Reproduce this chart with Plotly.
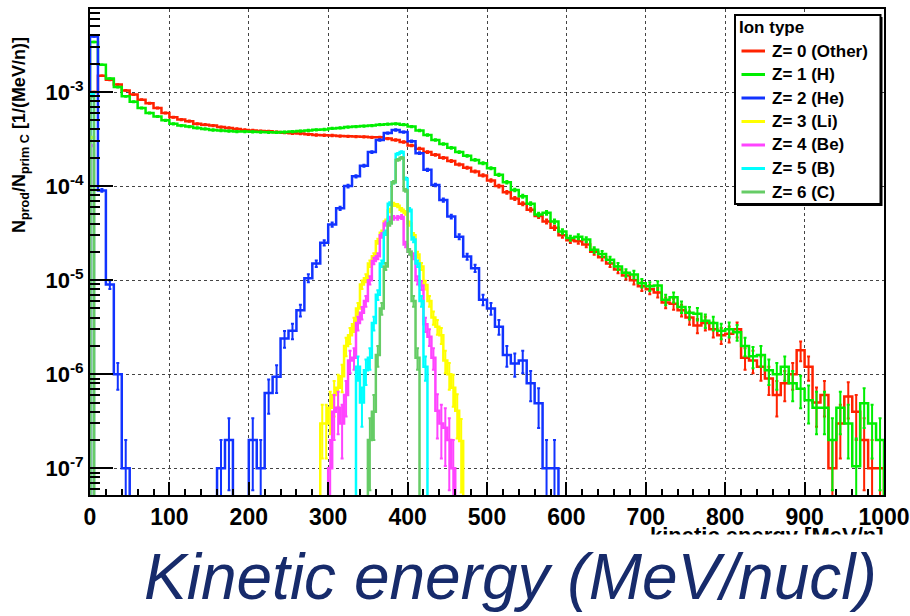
import math
import plotly.graph_objects as go

# ---------------- data ----------------
LIGHT_BIN = 10.0   # MeV/n bin width of the Other / H / He histograms
HEAVY_BIN = 5.0    # MeV/n bin width of the Li / Be / B / C histograms
COUNT_UNIT = 1e-7  # histogram value corresponding to one entry (for error bars)

# Z=0 (Other): bins 0-10, 10-20, ... 990-1000
other_vals = [
    1.0e-3, 1.49e-3, 1.35e-3, 1.2e-3, 1.04e-3, 9.4e-4, 8.3e-4, 7.6e-4, 6.75e-4, 6.0e-4,
    5.4e-4, 5.1e-4, 4.9e-4, 4.6e-4, 4.5e-4, 4.4e-4, 4.25e-4, 4.15e-4, 4.05e-4, 3.95e-4,
    3.9e-4, 3.85e-4, 3.82e-4, 3.75e-4, 3.7e-4, 3.65e-4, 3.62e-4, 3.55e-4, 3.5e-4, 3.47e-4,
    3.45e-4, 3.4e-4, 3.38e-4, 3.36e-4, 3.34e-4, 3.3e-4, 3.3e-4, 3.2e-4, 3.1e-4, 2.95e-4,
    2.7e-4, 2.5e-4, 2.3e-4, 2.15e-4, 2.0e-4, 1.85e-4, 1.7e-4, 1.57e-4, 1.43e-4, 1.3e-4,
    1.15e-4, 1.0e-4, 8.6e-5, 7.4e-5, 6.5e-5, 5.6e-5, 4.8e-5, 4.2e-5, 3.6e-5, 3.0e-5,
    2.65e-5, 2.6e-5, 2.4e-5, 2.0e-5, 1.75e-5, 1.5e-5, 1.3e-5, 1.12e-5, 1.0e-5, 8.6e-6,
    8.0e-6, 7.4e-6, 5.8e-6, 5.6e-6, 4.8e-6, 4.0e-6, 3.3e-6, 3.5e-6, 3.0e-6, 2.6e-6,
    2.7e-6, 3.0e-6, 1.5e-6, 1.4e-6, 1.2e-6, 9e-7, 6e-7, 8e-7, 1.0e-6, 1.8e-6,
    1.2e-6, 5e-7, 6e-7, 1.0e-7, 3e-7, 5.8e-7, 4e-7, 2e-7, 1.0e-7, 1.0e-7,
]

# Z=1 (H): bins 0-10 ... 990-1000
h_vals = [
    3.4e-3, 1.95e-3, 1.39e-3, 1.13e-3, 9.0e-4, 7.9e-4, 6.75e-4, 6.0e-4, 5.5e-4, 5.0e-4,
    4.6e-4, 4.4e-4, 4.3e-4, 4.15e-4, 4.05e-4, 3.95e-4, 3.9e-4, 3.85e-4, 3.8e-4, 3.8e-4,
    3.78e-4, 3.75e-4, 3.73e-4, 3.72e-4, 3.75e-4, 3.8e-4, 3.85e-4, 3.9e-4, 3.97e-4, 4.0e-4,
    4.1e-4, 4.15e-4, 4.25e-4, 4.3e-4, 4.35e-4, 4.4e-4, 4.5e-4, 4.55e-4, 4.6e-4, 4.5e-4,
    4.3e-4, 3.9e-4, 3.5e-4, 3.1e-4, 2.8e-4, 2.55e-4, 2.3e-4, 2.1e-4, 1.9e-4, 1.75e-4,
    1.55e-4, 1.32e-4, 1.1e-4, 9.1e-5, 7.8e-5, 6.5e-5, 5.0e-5, 5.2e-5, 4.2e-5, 3.3e-5,
    2.8e-5, 2.9e-5, 2.7e-5, 2.1e-5, 1.9e-5, 1.65e-5, 1.4e-5, 1.2e-5, 1.15e-5, 9.3e-6,
    8.6e-6, 8.8e-6, 6.2e-6, 6.6e-6, 5.2e-6, 4.5e-6, 4.4e-6, 3.7e-6, 3.5e-6, 2.9e-6,
    3.0e-6, 2.8e-6, 2.0e-6, 1.55e-6, 1.6e-6, 1.1e-6, 1.0e-6, 1.2e-6, 8e-7, 7e-7,
    5.3e-7, 4.4e-7, 4.4e-7, 2.0e-7, 4.4e-7, 3.0e-7, 1.05e-7, 4.9e-7, 3.0e-7, 2.0e-7,
]

# Z=2 (He): bins 0-10 ... 580-590
he_vals = [
    3.9e-3, 9e-5, 9e-6, 1e-6, 1e-7, 0, 0, 0, 0, 0,
    0, 0, 0, 0, 0, 0, 1e-7, 2e-7, 0, 0,
    2e-7, 1e-7, 6.3e-7, 9.4e-7, 2.4e-6, 2.9e-6, 4.8e-6, 1.05e-5, 1.5e-5, 2.5e-5,
    3.9e-5, 5.8e-5, 1.0e-4, 1.27e-4, 1.65e-4, 2.3e-4, 3.1e-4, 3.66e-4, 3.95e-4, 3.75e-4,
    3.0e-4, 2.24e-4, 1.49e-4, 1.03e-4, 7.1e-5, 4.75e-5, 2.9e-5, 1.78e-5, 1.34e-5, 6.2e-6,
    5.0e-6, 3.2e-6, 1.6e-6, 1.3e-6, 1.4e-6, 8e-7, 4.9e-7, 1e-7, 1e-7,
]

# Heavier fragments: value of the 0-5 MeV/n bin, start of the peak region, peak bins
li_first, li_start = 3.3e-4, 290.0
li_vals = [3.0e-7, 3.0e-7, 4.4e-7, 6e-7, 7.2e-7, 9.5e-7, 2.0e-6, 2.6e-6, 3.4e-6, 5e-6,
           9e-6, 1.05e-5, 1.5e-5, 1.8e-5, 2.6e-5, 3.2e-5, 4.2e-5, 5.5e-5, 6.4e-5, 6.2e-5,
           5.6e-5, 5.2e-5, 4.0e-5, 3.0e-5, 1.87e-5, 1.4e-5, 8.9e-6, 6e-6, 4e-6, 3.2e-6,
           2.6e-6, 1.4e-6, 1.0e-6, 7.2e-7, 4.1e-7, 1.95e-7]
be_first, be_start = 2.7e-4, 300.0
be_vals = [1e-7, 4e-7, 4.4e-7, 3e-7, 6e-7, 1.4e-6, 1.5e-6, 3.5e-6, 4.5e-6, 6e-6,
           1.0e-5, 1.6e-5, 1.8e-5, 3.0e-5, 4.0e-5, 4.5e-5, 4.6e-5, 4.6e-5, 4.7e-5, 2.4e-5,
           2.0e-5, 1.8e-5, 1.0e-5, 8.8e-6, 3.4e-6, 2.5e-6, 1.5e-6, 4.1e-7, 3e-7, 2.7e-7,
           2e-7, 1e-7]
b_first, b_start = 9.5e-4, 335.0
b_vals = [1.2e-6, 5e-7, 1.1e-6, 1.5e-6, 3.5e-6, 7e-6, 1.5e-5, 3.2e-5, 6.5e-5, 1.1e-4,
          2.2e-4, 2.3e-4, 1.2e-4, 5.6e-5, 2.7e-5, 1.5e-5, 6e-6, 1.2e-6]
c_first, c_start = 9.0e-4, 350.0
c_vals = [2e-7, 4e-7, 1.6e-6, 5e-6, 1.4e-5, 4e-5, 1.1e-4, 1.9e-4, 2.0e-4, 9e-5,
          2e-5, 6e-6, 1.5e-6]

legend_title = "Ion type"
legend_names = ["Z= 0 (Other)", "Z= 1 (H)", "Z= 2 (He)", "Z= 3 (Li)",
                "Z= 4 (Be)", "Z= 5 (B)", "Z= 6 (C)"]
x_ticks = [0, 100, 200, 300, 400, 500, 600, 700, 800, 900, 1000]
y_ticks = [1e-7, 1e-6, 1e-5, 1e-4, 1e-3]
y_ticktext = ["10<sup>-7</sup>", "10<sup>-6</sup>", "10<sup>-5</sup>",
              "10<sup>-4</sup>", "10<sup>-3</sup>"]

# ---------------- styles / layout helpers ----------------
colors = ["#ff2200", "#00ee00", "#1133ff", "#ffff00", "#ff44ff", "#00ffff", "#66cc66"]
FONT = "Liberation Sans"
FLOOR = 1e-12   # empty bins are drawn down below the frame, like ROOT does
W, H = 910, 616
ML, MR, MT, MB = 90, 26, 9, 121
PW, PH = W - ML - MR, H - MT - MB


def px(x):
    return (x - ML) / PW


def py(y):
    return (H - MB - y) / PH


def heavy_full(first, start, vals):
    gap = int(round(start / HEAVY_BIN)) - 1
    return [first] + [0.0] * gap + list(vals)


series = [
    (other_vals, LIGHT_BIN),
    (h_vals, LIGHT_BIN),
    (he_vals, LIGHT_BIN),
    (heavy_full(li_first, li_start, li_vals), HEAVY_BIN),
    (heavy_full(be_first, be_start, be_vals), HEAVY_BIN),
    (heavy_full(b_first, b_start, b_vals), HEAVY_BIN),
    (heavy_full(c_first, c_start, c_vals), HEAVY_BIN),
]

fig = go.Figure()
for (vals, w), name, col in zip(series, legend_names, colors):
    xs, ys = [0.0], [FLOOR]
    for i, v in enumerate(vals):
        xs.append(i * w)
        ys.append(v if v > 0 else FLOOR)
    xs.append(len(vals) * w)
    ys.append(FLOOR)
    fig.add_trace(go.Scatter(x=xs, y=ys, mode="lines", name=name, showlegend=False,
                             line=dict(color=col, width=2.5, shape="hv"),
                             hoverinfo="skip"))
    ex, ey, ee = [], [], []
    for i, v in enumerate(vals):
        if v > 0:
            ex.append((i + 0.5) * w)
            ey.append(v)
            ee.append(math.sqrt(v * COUNT_UNIT))
    fig.add_trace(go.Scatter(x=ex, y=ey, mode="markers", showlegend=False,
                             marker=dict(size=0, color=col, opacity=0),
                             error_y=dict(type="data", array=ee, color=col,
                                          thickness=2, width=1.5),
                             hoverinfo="skip"))

minor_y = [m * 10.0 ** e for e in range(-8, -1) for m in range(2, 10)]

fig.update_layout(
    width=W, height=H, autosize=False,
    margin=dict(l=ML, r=MR, t=MT, b=MB),
    paper_bgcolor="white", plot_bgcolor="white",
    font=dict(family=FONT, color="black"),
    showlegend=False,
    xaxis=dict(
        range=[0, 1000], tickmode="array", tickvals=x_ticks,
        ticks="inside", ticklen=13, tickwidth=2, tickcolor="black",
        showline=True, mirror=True, linecolor="black", linewidth=2,
        showgrid=True, gridcolor="#444444", griddash="dot", gridwidth=1,
        zeroline=False, automargin=False,
        tickfont=dict(family=FONT, size=23, color="black", weight="bold"),
        minor=dict(dtick=20, tick0=0, ticks="inside", ticklen=6.5, tickwidth=2,
                   tickcolor="black", showgrid=False),
    ),
    yaxis=dict(
        type="log", range=[-7.284, -2.117],
        tickmode="array", tickvals=y_ticks, ticktext=y_ticktext,
        ticks="inside", ticklen=23, tickwidth=2, tickcolor="black",
        showline=True, mirror=True, linecolor="black", linewidth=2,
        showgrid=True, gridcolor="#444444", griddash="dot", gridwidth=1,
        zeroline=False, automargin=False,
        tickfont=dict(family=FONT, size=22, color="black", weight="bold"),
        minor=dict(tickmode="array", tickvals=minor_y, ticks="inside", ticklen=10,
                   tickwidth=2, tickcolor="black", showgrid=False),
    ),
)

# ---------------- legend box (ROOT TLegend look) ----------------
fig.add_shape(type="rect", xref="paper", yref="paper", layer="above",
              x0=px(737), x1=px(882.5), y0=py(206), y1=py(17),
              line=dict(width=0), fillcolor="black")
fig.add_shape(type="rect", xref="paper", yref="paper", layer="above",
              x0=px(735), x1=px(880.5), y0=py(204), y1=py(15),
              line=dict(width=2, color="black"), fillcolor="white")
fig.add_annotation(text="<b>" + legend_title + "</b>", xref="paper", yref="paper",
                   x=px(737), y=py(27), xanchor="left", yanchor="middle",
                   showarrow=False, font=dict(family=FONT, size=17, color="black"))
entry_y = [51, 74.5, 98, 121.5, 145, 168.5, 192]
for name, col, ey_px in zip(legend_names, colors, entry_y):
    fig.add_shape(type="line", xref="paper", yref="paper", layer="above",
                  x0=px(741.5), x1=px(765), y0=py(ey_px), y1=py(ey_px),
                  line=dict(color=col, width=3))
    fig.add_annotation(text="<b>" + name + "</b>", xref="paper", yref="paper",
                       x=px(770), y=py(ey_px), xanchor="left", yanchor="middle",
                       showarrow=False, font=dict(family=FONT, size=17, color="black"))

# y-axis title (ROOT style, aligned toward the top of the axis)
fig.add_annotation(
    text="<b>N<sub>prod</sub>/N<sub>prim C</sub> [1/(MeV/n)]</b>",
    textangle=-90, xref="paper", yref="paper",
    x=px(20), y=py(135), xanchor="center", yanchor="middle",
    showarrow=False, font=dict(family=FONT, size=18, color="black"))

# x-axis title (cut off at the bottom of the original canvas)
fig.add_annotation(
    text="<b>kinetic energy [MeV/n]</b>", xref="paper", yref="paper",
    x=px(886), y=py(521), xanchor="right", yanchor="top",
    showarrow=False, font=dict(family=FONT, size=22, color="black"))
fig.add_annotation(
    text=" ", xref="paper", yref="paper", x=px(905), y=py(534),
    xanchor="right", yanchor="top", width=300, height=18, bgcolor="white",
    borderpad=0, showarrow=False, font=dict(family=FONT, size=10))

# slide caption
fig.add_annotation(
    text="<i>Kinetic energy (MeV/nucl)</i>", xref="paper", yref="paper",
    x=px(511), y=py(577), xanchor="center", yanchor="middle",
    showarrow=False, font=dict(family=FONT, size=64, color="#172b6b"))

fig.write_html("out.html")
